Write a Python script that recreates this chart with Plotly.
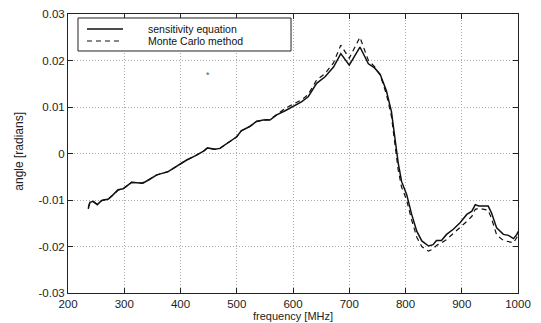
import plotly.graph_objects as go

freq = [236, 239, 245, 252, 260, 272, 280, 289, 298, 313, 322, 333, 343, 358, 378, 390,
        411, 426, 441, 448, 461, 470, 476, 491, 500, 508, 523, 535, 547, 559, 571, 586,
        600, 615, 627, 642, 657, 672, 685, 700, 719, 734, 745, 755, 766, 775, 781, 787,
        793, 802, 811, 820, 829, 841, 849, 855, 864, 873, 885, 897, 909, 918, 924, 930,
        947, 953, 962, 974, 983, 992, 998, 1000]

sensitivity = [-0.0119, -0.0105, -0.0103, -0.0110, -0.0101, -0.0098, -0.0089, -0.0078,
               -0.0076, -0.0062, -0.0063, -0.0064, -0.0057, -0.0046, -0.0039, -0.0030,
               -0.0014, -0.0005, 0.0005, 0.0012, 0.0009, 0.0011, 0.0016, 0.0027, 0.0036,
               0.0049, 0.0058, 0.0069, 0.0072, 0.0072, 0.0083, 0.0092, 0.0101, 0.0111,
               0.0122, 0.0151, 0.0165, 0.0186, 0.0215, 0.0190, 0.0229, 0.0193, 0.0184,
               0.0170, 0.0135, 0.0090, 0.0035, -0.0020, -0.0060, -0.0088, -0.0131,
               -0.0167, -0.0188, -0.0199, -0.0196, -0.0187, -0.0187, -0.0174, -0.0163,
               -0.0149, -0.0131, -0.0124, -0.0110, -0.0113, -0.0113, -0.0128, -0.0160,
               -0.0174, -0.0176, -0.0183, -0.0174, -0.0168]

monte_carlo = [-0.0116, -0.0104, -0.0104, -0.0109, -0.0101, -0.0097, -0.0089, -0.0079,
               -0.0076, -0.0062, -0.0063, -0.0063, -0.0057, -0.0046, -0.0039, -0.0030,
               -0.0014, -0.0005, 0.0005, 0.0012, 0.0009, 0.0011, 0.0016, 0.0027, 0.0036,
               0.0049, 0.0058, 0.0069, 0.0072, 0.0073, 0.0084, 0.0097, 0.0106, 0.0115,
               0.0127, 0.0158, 0.0172, 0.0195, 0.0233, 0.0205, 0.0250, 0.0200, 0.0187,
               0.0168, 0.0128, 0.0080, 0.0022, -0.0035, -0.0072, -0.0100, -0.0143,
               -0.0180, -0.0200, -0.0210, -0.0205, -0.0198, -0.0192, -0.0185, -0.0172,
               -0.0160, -0.0146, -0.0135, -0.0120, -0.0118, -0.0122, -0.0140, -0.0175,
               -0.0187, -0.0190, -0.0192, -0.0180, -0.0172]

x_ticks = [200, 300, 400, 500, 600, 700, 800, 900, 1000]
y_ticks = [-0.03, -0.02, -0.01, 0, 0.01, 0.02, 0.03]
y_tick_labels = ["-0.03", "-0.02", "-0.01", "0", "0.01", "0.02", "0.03"]

FONT = "Liberation Sans, Arial, sans-serif"

fig = go.Figure()
fig.add_trace(go.Scatter(x=freq, y=sensitivity, mode="lines", name="sensitivity equation",
                         line=dict(color="#111", width=1.5)))
fig.add_trace(go.Scatter(x=freq, y=monte_carlo, mode="lines", name="Monte Carlo method",
                         line=dict(color="#111", width=1.2, dash="5px,4px")))

axis_common = dict(showline=True, linecolor="#222", linewidth=1, mirror="ticks",
                   ticks="inside", ticklen=5, tickcolor="#222", automargin=False,
                   showgrid=True, gridcolor="#aaa", griddash="1px,2px", gridwidth=1,
                   zeroline=False, tickfont=dict(family=FONT, size=11.5, color="#222"))

fig.update_xaxes(range=[200, 1000], tickvals=x_ticks, **axis_common)
fig.update_yaxes(range=[-0.03, 0.03], tickvals=y_ticks, ticktext=y_tick_labels, **axis_common)

# axis titles
fig.add_annotation(xref="paper", yref="paper", x=0.5, y=-0.0824, text="frequency [MHz]",
                   showarrow=False, xanchor="center", yanchor="middle", borderpad=0,
                   font=dict(family=FONT, size=11, color="#222"))
fig.add_annotation(xref="paper", yref="paper", x=-0.1089, y=0.51, text="angle [radians]",
                   showarrow=False, xanchor="center", yanchor="middle", textangle=-90, borderpad=0,
                   font=dict(family=FONT, size=12, color="#222"))

# legend box drawn manually (compact like the original)
fig.add_shape(type="rect", xref="paper", yref="paper", x0=0.0222, x1=0.4956, y0=0.8674, y1=0.9857,
              line=dict(color="#222", width=1), fillcolor="white", layer="above")
fig.add_shape(type="line", xref="paper", yref="paper", x0=0.0422, x1=0.1222, y0=0.9462, y1=0.9462,
              line=dict(color="#111", width=1.5), layer="above")
fig.add_shape(type="line", xref="paper", yref="paper", x0=0.0422, x1=0.1222, y0=0.9032, y1=0.9032,
              line=dict(color="#111", width=1.2, dash="5px,4px"), layer="above")
fig.add_annotation(xref="paper", yref="paper", x=0.1756, y=0.9462, text="sensitivity equation",
                   showarrow=False, xanchor="left", yanchor="middle", borderpad=0,
                   font=dict(family=FONT, size=10.5, color="#111"))
fig.add_annotation(xref="paper", yref="paper", x=0.1756, y=0.9032, text="Monte Carlo method",
                   showarrow=False, xanchor="left", yanchor="middle", borderpad=0,
                   font=dict(family=FONT, size=10.5, color="#111"))
fig.add_annotation(x=449, y=0.0168, text="*", showarrow=False,
                   font=dict(family=FONT, size=9, color="#555"))

fig.update_layout(width=541, height=323, margin=dict(l=68, r=23, t=14, b=30),
                  paper_bgcolor="white", plot_bgcolor="white", showlegend=False)

fig.write_html("out.html")
